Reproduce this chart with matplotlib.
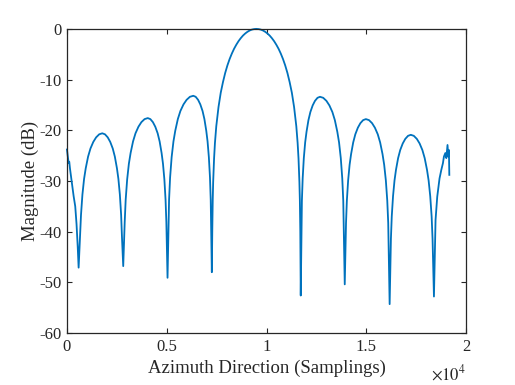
import matplotlib
matplotlib.use('Agg')
import matplotlib.pyplot as plt

plt.rcParams['font.family'] = ['Liberation Serif', 'DejaVu Serif']
plt.rcParams['mathtext.fontset'] = 'stix'
plt.rcParams['axes.unicode_minus'] = False

# samples (azimuth sampling index, magnitude in dB)
left_tail_x = [0, 85, 115, 150, 200, 270, 335, 415, 480, 540]
left_tail_db = [-23.8, -26.5, -26.2, -27.5, -29.0, -31.0, -33.0, -35.0, -38.5, -43.0]

lobe_l1_x = [585, 656, 704, 775, 858, 941, 1059, 1178, 1320, 1462, 1616, 1770,
             1906, 2043, 2169, 2295, 2400, 2505, 2578, 2652, 2715, 2757]
lobe_l1_db = [-47.1, -41.1, -36.7, -32.7, -29.6, -27.5, -25.2, -23.6, -22.3, -21.4, -20.8, -20.6,
              -20.8, -21.4, -22.3, -23.6, -25.2, -27.5, -29.6, -32.7, -36.7, -41.1]

lobe_l2_x = [2820, 2894, 2943, 3017, 3103, 3189, 3312, 3435, 3583, 3730, 3890, 4050,
             4179, 4307, 4426, 4545, 4644, 4743, 4812, 4882, 4941, 4981]
lobe_l2_db = [-46.8, -38.1, -33.7, -29.7, -26.6, -24.5, -22.2, -20.6, -19.3, -18.4, -17.8, -17.6,
              -17.8, -18.4, -19.3, -20.6, -22.2, -24.5, -26.6, -29.7, -33.7, -38.1]

lobe_l3_x = [5040, 5117, 5169, 5246, 5337, 5427, 5556, 5685, 5840, 5995, 6162, 6330,
             6451, 6572, 6683, 6795, 6888, 6981, 7046, 7111, 7167, 7204]
lobe_l3_db = [-49.1, -33.7, -29.3, -25.3, -22.2, -20.1, -17.8, -16.2, -14.9, -14.0, -13.4, -13.2,
              -13.4, -14.0, -14.9, -16.2, -17.8, -20.1, -22.2, -25.3, -29.3, -33.7]

main_x = [7260, 7282, 7305, 7327, 7372, 7416, 7483, 7595, 7706, 7818, 7929, 8041, 8152,
          8264, 8375, 8487, 8598, 8710, 8821, 8933, 9044, 9156, 9267, 9379, 9490,
          9601, 9713, 9824, 9935, 10046, 10158, 10269, 10380, 10491, 10603, 10714, 10825,
          10936, 11048, 11159, 11270, 11381, 11493, 11559, 11604, 11648, 11671, 11693]
main_db = [-48.0, -39.9, -33.8, -30.2, -25.6, -22.5, -19.2, -15.4, -12.6, -10.5, -8.7, -7.2, -5.94,
           -4.86, -3.92, -3.12, -2.42, -1.83, -1.32, -0.91, -0.58, -0.32, -0.14, -0.04, 0.0,
           -0.04, -0.14, -0.32, -0.58, -0.91, -1.32, -1.83, -2.42, -3.12, -3.92, -4.86, -5.94,
           -7.2, -8.7, -10.5, -12.6, -15.4, -19.2, -22.5, -25.6, -30.2, -33.8, -39.9]

lobe_r1_x = [11715, 11773, 11812, 11869, 11937, 12005, 12101, 12198, 12313, 12429, 12555, 12680,
             12841, 13002, 13151, 13300, 13424, 13548, 13635, 13722, 13796, 13846]
lobe_r1_db = [-52.6, -33.9, -29.5, -25.5, -22.4, -20.3, -18.0, -16.4, -15.1, -14.2, -13.6, -13.4,
              -13.6, -14.2, -15.1, -16.4, -18.0, -20.3, -22.4, -25.5, -29.5, -33.9]

lobe_r2_x = [13920, 13984, 14026, 14090, 14164, 14238, 14344, 14450, 14577, 14704, 14842, 14980,
             15135, 15289, 15432, 15575, 15694, 15813, 15896, 15980, 16051, 16099]
lobe_r2_db = [-50.4, -38.3, -33.9, -29.9, -26.8, -24.7, -22.4, -20.8, -19.5, -18.6, -18.0, -17.8,
              -18.0, -18.6, -19.5, -20.8, -22.4, -24.7, -26.8, -29.9, -33.9, -38.3]

lobe_r3_x = [16170, 16234, 16276, 16340, 16414, 16488, 16594, 16700, 16827, 16954, 17092, 17230,
             17381, 17532, 17671, 17810, 17926, 18042, 18123, 18204, 18274, 18320]
lobe_r3_db = [-54.3, -41.4, -37.0, -33.0, -29.9, -27.8, -25.5, -23.9, -22.6, -21.7, -21.1, -20.9,
              -21.1, -21.7, -22.6, -23.9, -25.5, -27.8, -29.9, -33.0, -37.0, -41.4]

right_tail_x = [18390, 18470, 18555, 18670, 18760, 18840, 18890, 18960, 19010, 19070, 19110, 19140, 19160]
right_tail_db = [-52.8, -37.7, -33.1, -29.5, -27.8, -26.5, -25.2, -24.5, -25.5, -22.9, -25.2, -23.9, -28.8]

x_ticks = [0, 5000, 10000, 15000, 20000]
x_tick_labels = ['0', '0.5', '1', '1.5', '2']
y_ticks = [-60, -50, -40, -30, -20, -10, 0]

x = (left_tail_x + lobe_l1_x + lobe_l2_x + lobe_l3_x + main_x
     + lobe_r1_x + lobe_r2_x + lobe_r3_x + right_tail_x)
y = (left_tail_db + lobe_l1_db + lobe_l2_db + lobe_l3_db + main_db
     + lobe_r1_db + lobe_r2_db + lobe_r3_db + right_tail_db)

fig = plt.figure(figsize=(5.15, 3.85), dpi=100)
ax = fig.add_axes([0.130, 0.135, 0.775, 0.790])

ax.plot(x, y, color='#0072BD', lw=1.3, clip_on=False)

ax.set_xlim(0, 20000)
ax.set_ylim(-60, 0)
ax.set_xticks(x_ticks)
ax.set_xticklabels(x_tick_labels)
ax.set_yticks(y_ticks)

dark = '#262626'
for s in ax.spines.values():
    s.set_color(dark)
    s.set_linewidth(0.9)
ax.tick_params(direction='in', top=True, right=True, length=3.5, width=0.8,
               colors=dark, labelsize=12, pad=4)

ax.set_xlabel('Azimuth Direction (Samplings)', fontsize=13.5, color=dark, labelpad=4)
ax.set_ylabel('Magnitude (dB)', fontsize=13.5, color=dark, labelpad=0)
ax.text(1.0, -0.135, r'$\times10^4$', transform=ax.transAxes, ha='right', va='center',
        fontsize=12, color=dark)

fig.savefig('out.png', dpi=100)
